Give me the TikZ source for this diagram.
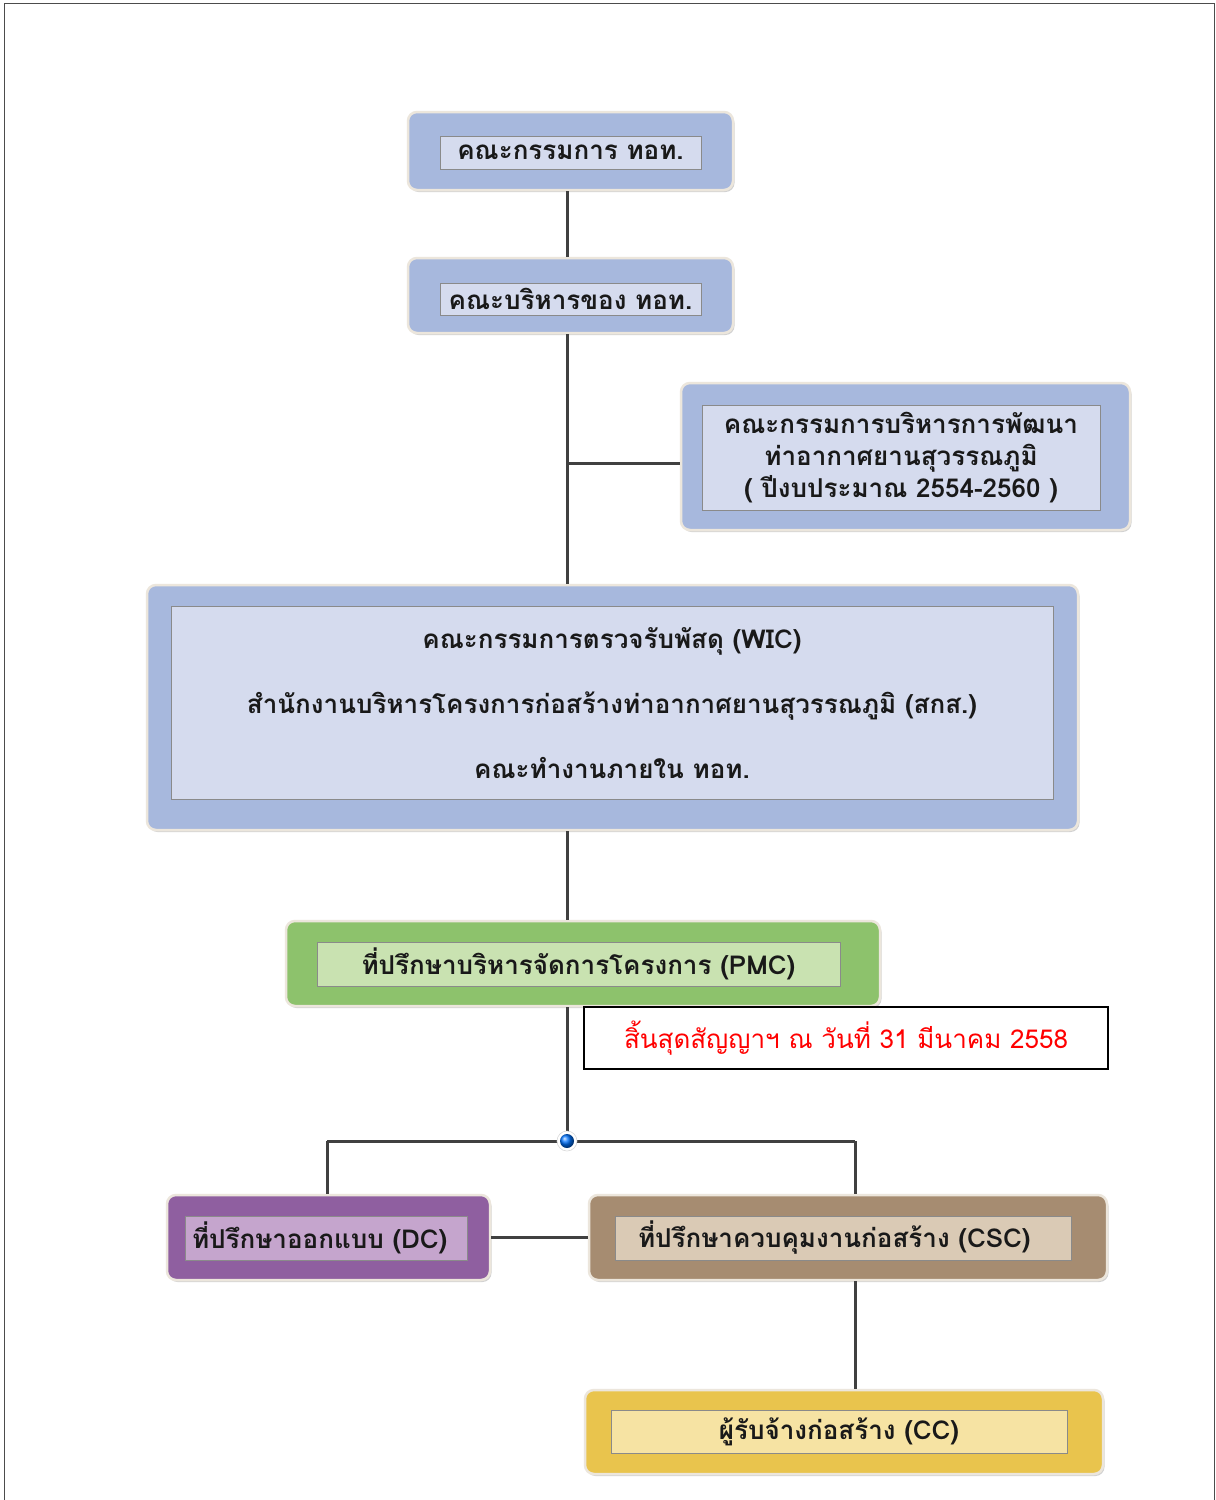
\documentclass[tikz,border=0pt]{standalone}
\usepackage{fontspec}
\newfontfamily\thai[Script=Thai]{Loma}
\usetikzlibrary{shadows,calc}
\definecolor{bluO}{HTML}{A7B8DD}
\definecolor{bluI}{HTML}{D5DBEE}
\definecolor{grnO}{HTML}{8DC26C}
\definecolor{grnI}{HTML}{C9E2B1}
\definecolor{purO}{HTML}{8F5FA0}
\definecolor{purI}{HTML}{C5A5CD}
\definecolor{tanO}{HTML}{A68C71}
\definecolor{tanI}{HTML}{DACAB5}
\definecolor{yelO}{HTML}{E9C44D}
\definecolor{yelI}{HTML}{F6E3A3}
\definecolor{edgeC}{HTML}{ECE6DC}
\definecolor{lineC}{HTML}{404040}
\definecolor{innerB}{HTML}{8A8A8A}
\tikzset{
  outerbox/.style={rectangle, rounded corners=9pt, draw=edgeC, line width=2.5pt, fill=#1, inner sep=0pt,
    drop shadow={shadow xshift=1.5pt, shadow yshift=-2pt, opacity=0.35}},
  innerbox/.style={rectangle, draw=innerB, line width=1pt, fill=#1, inner sep=0pt,
    font=\thai\bfseries\fontsize{26}{32}\selectfont, text=black!90, align=center},
  conn/.style={draw=lineC, line width=3pt},
}
\begin{document}
\begin{tikzpicture}[x=1pt,y=-1pt]
\useasboundingbox[fill=white] (0,0) rectangle (1216,1500);
% frame
\draw[black!70, line width=1.6pt] (4.5,1500) -- (4.5,3.5) -- (1214.5,3.5) -- (1214.5,1500);

\coordinate (sp) at (567,0);

% box 1
\node[outerbox=bluO, minimum width=325pt, minimum height=78pt] (b1o) at (570.5,151) {};
\node[innerbox=bluI, minimum width=261pt, minimum height=33pt] (b1) at (570.5,152.5) {คณะกรรมการ ทอท.};
% box 2
\node[outerbox=bluO, minimum width=325pt, minimum height=75pt] (b2o) at (570.5,295.5) {};
\node[innerbox=bluI, minimum width=261pt, minimum height=32pt] (b2) at (570.5,299) {คณะบริหารของ ทอท.};
% box 3
\node[outerbox=bluO, minimum width=449pt, minimum height=147pt] (b3o) at (905.5,456.5) {};
\node[innerbox=bluI, minimum width=398pt, minimum height=105pt] (b3) at (901,457.5) {คณะกรรมการบริหารการพัฒนา\\ท่าอากาศยานสุวรรณภูมิ\\( ปีงบประมาณ 2554-2560 )};
% box 4
\node[outerbox=bluO, minimum width=931pt, minimum height=245pt] (b4o) at (612.5,707.5) {};
\node[innerbox=bluI, minimum width=882pt, minimum height=193pt] (b4) at (612,703) {คณะกรรมการตรวจรับพัสดุ (WIC)\\[33pt]สำนักงานบริหารโครงการก่อสร้างท่าอากาศยานสุวรรณภูมิ (สกส.)\\[33pt]คณะทำงานภายใน ทอท.};
% PMC
\node[outerbox=grnO, minimum width=594pt, minimum height=85pt] (pmco) at (583,963.5) {};
\node[innerbox=grnI, minimum width=523pt, minimum height=44pt] (pmc) at (578.5,964) {ที่ปรึกษาบริหารจัดการโครงการ (PMC)};
% note
\node[rectangle, draw=black, line width=1.8pt, fill=white, minimum width=524pt, minimum height=62pt, inner sep=0pt,
  font=\thai\fontsize{26}{30}\selectfont, text=red] (note) at (846,1038) {สิ้นสุดสัญญาฯ ณ วันที่ 31 มีนาคม 2558};
% DC
\node[outerbox=purO, minimum width=323pt, minimum height=85pt] (dco) at (328.5,1237.5) {};
\node[innerbox=purI, minimum width=282pt, minimum height=44pt, text width=268pt, align=left] (dc) at (326,1238) {ที่ปรึกษาออกแบบ (DC)};
% CSC
\node[outerbox=tanO, minimum width=518pt, minimum height=85pt] (csco) at (848,1237.5) {};
\node[innerbox=tanI, minimum width=456pt, minimum height=44pt, text width=410pt, align=left] (csc) at (843,1238) {ที่ปรึกษาควบคุมงานก่อสร้าง (CSC)};
% CC
\node[outerbox=yelO, minimum width=518pt, minimum height=84pt] (cco) at (844,1432) {};
\node[innerbox=yelI, minimum width=456pt, minimum height=43pt] (cc) at (839,1431.5) {ผู้รับจ้างก่อสร้าง (CC)};

% junction
\coordinate (jn) at (567,1141);
\coordinate (jl) at (327,1141);
\coordinate (jr) at (855,1141);
\coordinate (b3j) at (567,463);

% connectors
\path[conn] (b1o.south -| sp) -- (b2o.north -| sp);
\path[conn] (b2o.south -| sp) -- (b4o.north -| sp);
\path[conn] (b3j) -- (b3j -| b3o.west);
\path[conn] (b4o.south -| sp) -- (pmco.north -| sp);
\path[conn] (pmco.south -| sp) -- (jn);
\path[conn] (jl) -- (jr);
\path[conn] (jl) -- (jl |- dco.north);
\path[conn] (jr) -- (jr |- csco.north);
\path[conn] (dco.east) -- (dco.east -| csco.west);
\path[conn] (csco.south -| jr) -- (cco.north -| jr);

\node[circle, minimum size=20pt, inner sep=0pt, fill=white, draw=black!15, line width=0.6pt] (dotring) at (jn) {};
\node[circle, minimum size=14pt, inner sep=0pt, ball color=blue!55!cyan] (dot) at (jn) {};
\end{tikzpicture}
\end{document}
